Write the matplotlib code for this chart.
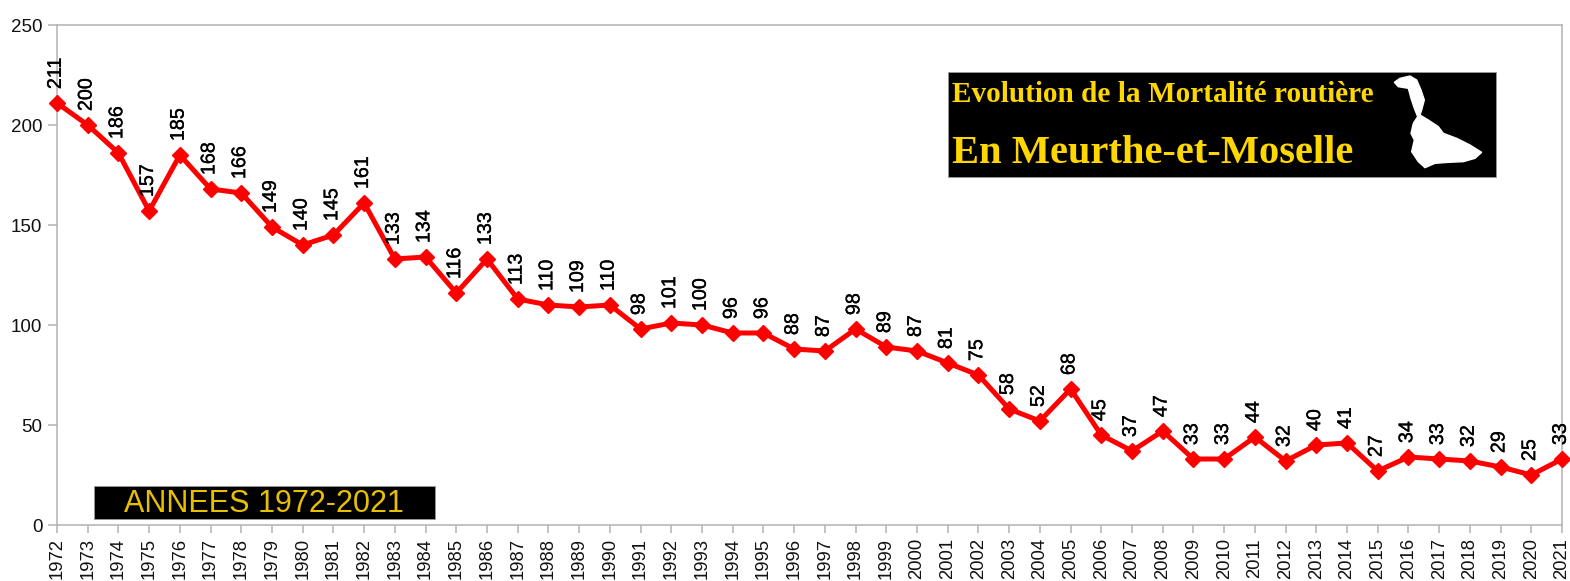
import matplotlib
matplotlib.use("Agg")
import matplotlib.pyplot as plt
import matplotlib.patheffects as pe
from matplotlib.patches import Rectangle, Polygon

# data
years = list(range(1972, 2022))
deaths = [211, 200, 186, 157, 185, 168, 166, 149, 140, 145,
          161, 133, 134, 116, 133, 113, 110, 109, 110, 98,
          101, 100, 96, 96, 88, 87, 98, 89, 87, 81,
          75, 58, 52, 68, 45, 37, 47, 33, 33, 44,
          32, 40, 41, 27, 34, 33, 32, 29, 25, 33]
y_ticks = [0, 50, 100, 150, 200, 250]

map_zoom = [(28, 52), (45, 40), (75, 33), (95, 45), (108, 75), (118, 105), (110, 135),
            (105, 150), (130, 165), (160, 185), (175, 205), (215, 220), (255, 240),
            (290, 262), (270, 280), (235, 290), (190, 292), (150, 295), (120, 308),
            (100, 290), (80, 260), (88, 225), (78, 205), (85, 175), (98, 155),
            (88, 130), (78, 100), (70, 70), (40, 65)]

W, H = 1570, 581
SANS = 'Liberation Sans'
GREY = '#b3b3b3'
GOLD = '#ffd700'

fig = plt.figure(figsize=(W / 100, H / 100), dpi=100, facecolor='white')
ax = fig.add_axes([57 / W, 1 - 525 / H, (1562 - 57) / W, 500 / H])

ax.plot(range(len(years)), deaths, color='#ff0000', lw=3.6, marker='D', ms=8.6,
        clip_on=False, zorder=3)
heavier = [pe.withStroke(linewidth=0.25, foreground='black')]
for i, v in enumerate(deaths):
    ax.annotate(str(v), (i, v), xytext=(-1.2, 10), textcoords='offset points',
                rotation=90, ha='center', va='bottom', fontsize=14.2,
                family=SANS, color='black', zorder=4, path_effects=heavier)

ax.set_xlim(0, len(years) - 1)
ax.set_ylim(0, 250)
ax.set_yticks(y_ticks)
ax.set_xticks(range(len(years)))
ax.set_xticklabels(years, rotation=90, family=SANS, fontsize=13.3, color='#111111')
ax.tick_params(axis='x', length=6, width=1.1, color=GREY, pad=3.5)
ax.tick_params(axis='y', length=6.5, width=1.1, color=GREY, pad=4, labelsize=13.5)
for lab in ax.get_yticklabels():
    lab.set_family(SANS)
    lab.set_color('#111111')
for s in ax.spines.values():
    s.set_color(GREY)
    s.set_linewidth(1.1)

# overlay in pixel coords for the black banners
ov = fig.add_axes([0, 0, 1, 1], facecolor='none')
ov.set_xlim(0, W)
ov.set_ylim(H, 0)
ov.axis('off')

ov.add_patch(Rectangle((948, 72), 548, 105, fc='black', ec='#999999', lw=0.6))
ov.text(952, 102, 'Evolution de la Mortalité routière', family='Liberation Serif',
        weight='bold', fontsize=21.1, color=GOLD)
ov.text(952, 163, 'En Meurthe-et-Moselle', family='Liberation Serif',
        weight='bold', fontsize=29.2, color=GOLD)
ov.add_patch(Polygon([(1385 + x / 3, 65 + y / 3) for x, y in map_zoom],
                     fc='white', ec='white', lw=1))

ov.add_patch(Rectangle((94, 486), 341, 33, fc='black', ec='#999999', lw=0.6))
ov.text(264, 504.5, 'ANNEES 1972-2021', family=SANS, fontsize=22,
        color='#e8c000', ha='center', va='center')

fig.savefig('out.png', dpi=100)
